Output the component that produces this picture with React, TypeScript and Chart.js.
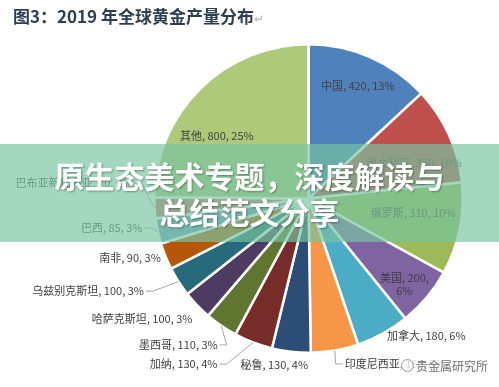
import React, { useEffect, useRef } from "react";
import { Chart, registerables } from "chart.js";

Chart.register(...registerables);

const titleText = "图3：2019 年全球黄金产量分布";
const bannerLines = ["原生态美术专题，深度解读与", "总结范文分享"];
const watermarkText = "贵金属研究所";

const categories = [
  "中国", "澳大利亚", "俄罗斯", "美国", "加拿大", "印度尼西亚", "秘鲁", "加纳",
  "墨西哥", "哈萨克斯坦", "乌兹别克斯坦", "南非", "巴西", "巴布亚新几内亚", "其他",
];
const production = [420, 330, 310, 200, 180, 160, 130, 130, 110, 100, 100, 90, 85, 70, 800];

const sliceColors = [
  "#4F81BD", "#C0504D", "#9BBB59", "#8064A2", "#4BACC6", "#F79646",
  "#2C4D75", "#772C2A", "#5F7530", "#4D3B62", "#276A7C", "#B65708",
  "#729ACA", "#CD7371", "#AFC97A",
];

// label placement relative to each slice: angle shift (deg) from slice middle, radius factor
const labelPlacement = [
  { dAng: 0, rf: 0.8, leader: false, wrap: false },
  { dAng: 6, rf: 0.72, leader: false, wrap: false },
  { dAng: -3.4, rf: 0.685, leader: false, wrap: false },
  { dAng: 2, rf: 0.835, leader: false, wrap: true },
  { dAng: -11.7, rf: 1.175, leader: false, wrap: false },
  { dAng: -17.8, rf: 1.21, leader: true, wrap: false },
  { dAng: 5.2, rf: 1.1, leader: false, wrap: false },
  { dAng: 16, rf: 1.345, leader: true, wrap: false },
  { dAng: 7.2, rf: 1.27, leader: true, wrap: false },
  { dAng: 8, rf: 1.33, leader: false, wrap: false },
  { dAng: 9.8, rf: 1.55, leader: true, wrap: false },
  { dAng: 3.5, rf: 1.22, leader: false, wrap: false },
  { dAng: 3.6, rf: 1.29, leader: true, wrap: false },
  { dAng: 7.3, rf: 1.525, leader: true, wrap: false },
  { dAng: -10.9, rf: 0.72, leader: false, wrap: false },
];

const labelPlugin = {
  id: "sliceLabels",
  afterDatasetsDraw(chart: any) {
    const ctx = chart.ctx as CanvasRenderingContext2D;
    const meta = chart.getDatasetMeta(0);
    const data = chart.data.datasets[0].data as number[];
    const total = data.reduce((a, b) => a + b, 0);
    ctx.save();
    ctx.font = '11px "Noto Sans CJK SC", sans-serif';
    ctx.textBaseline = "middle";
    ctx.textAlign = "center";
    meta.data.forEach((arc: any, i: number) => {
      const { x, y, startAngle, endAngle, outerRadius } = arc.getProps(
        ["x", "y", "startAngle", "endAngle", "outerRadius"],
        true
      );
      const mid = (startAngle + endAngle) / 2;
      const p = labelPlacement[i];
      const a = mid + (p.dAng * Math.PI) / 180;
      const lx = x + Math.cos(a) * outerRadius * p.rf;
      const ly = y + Math.sin(a) * outerRadius * p.rf;
      const pct = Math.round((data[i] / total) * 100);
      const lines = p.wrap
        ? [`${categories[i]}, ${data[i]},`, `${pct}%`]
        : [`${categories[i]}, ${data[i]}, ${pct}%`];
      const lh = 13;
      ctx.fillStyle = "#404040";
      lines.forEach((t, k) => ctx.fillText(t, lx, ly + (k - (lines.length - 1) / 2) * lh));
      if (p.leader) {
        const w = Math.max(...lines.map((t) => ctx.measureText(t).width));
        const ex = x + Math.cos(mid) * outerRadius;
        const ey = y + Math.sin(mid) * outerRadius;
        const onLeft = lx < x;
        const nearX = onLeft ? lx + w / 2 + 2 : lx - w / 2 - 2;
        const elbowX = onLeft ? nearX + 7 : nearX - 7;
        ctx.strokeStyle = "#a6a6a6";
        ctx.lineWidth = 1;
        ctx.beginPath();
        ctx.moveTo(ex, ey);
        ctx.lineTo(elbowX, ly);
        ctx.lineTo(nearX, ly);
        ctx.stroke();
      }
    });
    ctx.restore();
  },
};

export default function App() {
  const canvasRef = useRef<HTMLCanvasElement | null>(null);

  useEffect(() => {
    if (!canvasRef.current) return;
    const chart = new Chart(canvasRef.current, {
      type: "pie",
      data: {
        labels: categories,
        datasets: [
          {
            data: production,
            backgroundColor: sliceColors,
            borderColor: "#ffffff",
            borderWidth: 2.5,
          },
        ],
      },
      options: {
        responsive: false,
        animation: false,
        layout: { padding: { left: 153, top: 43, right: 35, bottom: 33 } },
        plugins: {
          legend: { display: false },
          tooltip: { enabled: false },
          title: { display: false },
        },
      },
      plugins: [labelPlugin],
    });
    return () => chart.destroy();
  }, []);

  return (
    <div
      style={{
        position: "fixed",
        left: 0,
        top: 0,
        width: 499,
        height: 387,
        background: "#ffffff",
        overflow: "hidden",
      }}
    >
      <canvas
        ref={canvasRef}
        width={499}
        height={387}
        style={{ position: "absolute", left: 0, top: 0, width: 499, height: 387 }}
      />
      <div
        style={{
          position: "absolute",
          left: 13,
          top: 5,
          font: 'bold 17px "Noto Sans CJK SC", sans-serif',
          lineHeight: "22px",
          color: "#2c3e52",
          whiteSpace: "nowrap",
        }}
      >
        {titleText}
        <span style={{ color: "#b0b0b0", fontSize: 12, fontWeight: "normal" }}>↵</span>
      </div>
      <div
        style={{
          position: "absolute",
          left: 0,
          top: 144,
          width: 499,
          height: 98,
          background: "rgba(120,196,160,0.68)",
          display: "flex",
          flexDirection: "column",
          alignItems: "center",
          justifyContent: "center",
          color: "#ffffff",
          font: 'bold 30px "Noto Sans CJK SC", sans-serif',
          lineHeight: "36px",
          textShadow: "1px 1px 2px rgba(0,0,0,0.35)",
          whiteSpace: "nowrap",
        }}
      >
        {bannerLines.map((l) => (
          <div key={l}>{l}</div>
        ))}
      </div>
      <div
        style={{
          position: "absolute",
          left: 401,
          top: 356,
          height: 18,
          paddingRight: 4,
          background: "rgba(255,255,255,0.8)",
          display: "flex",
          alignItems: "center",
          color: "#707070",
          font: '12px "Noto Sans CJK SC", sans-serif',
          whiteSpace: "nowrap",
        }}
      >
        <span
          style={{
            display: "inline-block",
            width: 11,
            height: 11,
            borderRadius: "50%",
            border: "1px solid #9a9a9a",
            marginRight: 2,
          }}
        />
        {watermarkText}
      </div>
    </div>
  );
}
